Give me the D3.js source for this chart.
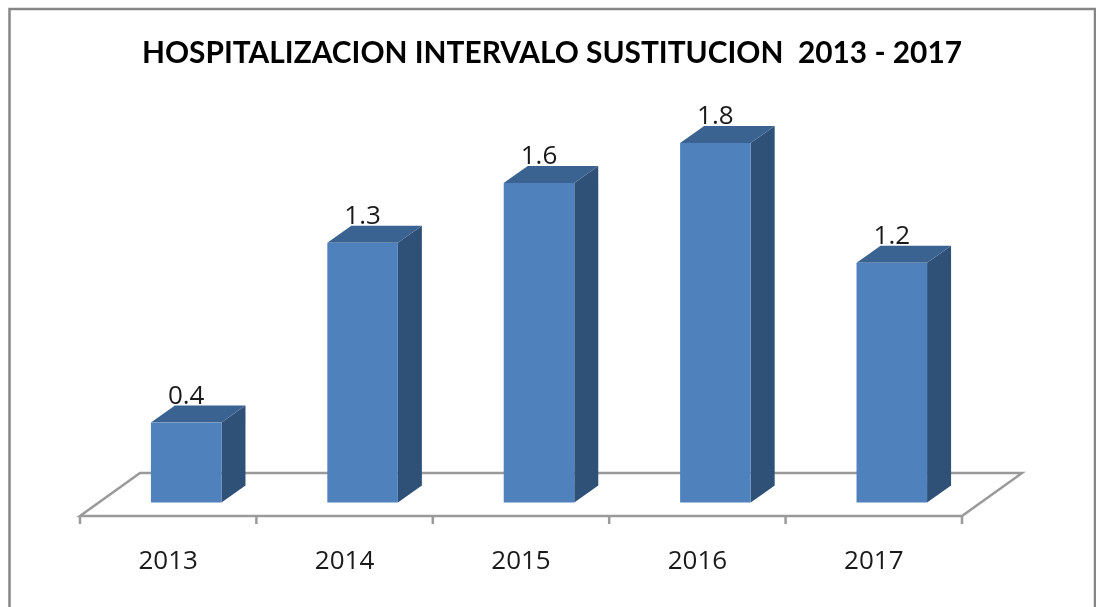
<!DOCTYPE html>
<html>
<head>
<meta charset="utf-8">
<script src="https://cdn.jsdelivr.net/npm/d3@7"></script>
<style>
    html, body { margin: 0; padding: 0; background: #fff; overflow: hidden; }
    svg { display: block; filter: blur(0.45px); }
    text { fill: #1a1a1a; }
</style>
</head>
<body>
<svg id="chart"></svg>
<script>
const years = ["2013", "2014", "2015", "2016", "2017"];
const values = [0.4, 1.3, 1.6, 1.8, 1.2];
const titleText = "HOSPITALIZACION INTERVALO SUSTITUCION  2013 - 2017";

const width = 1096;
const height = 607;

// 3d offsets: bar depth and floor depth
const depth = { x: 24, y: -17 };
const floor = { x: 60, y: -43 };
const floorY = 516;
const baseY = 502.5;

const svg = d3.select("#chart").attr("width", width).attr("height", height);

// outer frame, bottom edge is cut off in the picture
svg.append("path")
    .attr("d", "M9.5,607V9H1095V607")
    .attr("fill", "none")
    .attr("stroke", "#868686")
    .attr("stroke-width", 2.5);

svg.append("text")
    .attr("x", 552)
    .attr("y", 63)
    .attr("text-anchor", "middle")
    .style("white-space", "pre")
    .style("font-family", "Lato")
    .style("font-weight", 700)
    .style("font-size", "29.85px")
    .style("fill", "#000")
    .text(titleText);

const x = d3.scaleBand().domain(years).range([80, 962]);
const xBars = d3.scaleBand().domain(years).range([98, 980]).paddingInner(0.6).paddingOuter(0.3);
const y = d3.scaleLinear().domain([0, 1.8]).range([baseY, 143]);

// floor
const x0 = x.range()[0];
const x1 = x.range()[1];
svg.append("path")
    .attr("d", d3.line()([
        [x0, floorY],
        [x0 + floor.x, floorY + floor.y],
        [x1 + floor.x, floorY + floor.y],
        [x1, floorY]
    ]) + "Z")
    .attr("fill", "#fff")
    .attr("stroke", "#9a9a9a")
    .attr("stroke-width", 2.5);

// tick marks sit between the categories
svg.selectAll(".tick-mark")
    .data(d3.range(years.length + 1))
    .enter()
    .append("line")
    .attr("class", "tick-mark")
    .attr("x1", i => x0 + i * x.step())
    .attr("x2", i => x0 + i * x.step())
    .attr("y1", floorY)
    .attr("y2", floorY + 8)
    .attr("stroke", "#9a9a9a")
    .attr("stroke-width", 2.5);

const axis = svg.append("g")
    .attr("transform", `translate(0,${floorY})`)
    .call(d3.axisBottom(x).tickSize(0).tickPadding(35));
axis.select(".domain").remove();
axis.selectAll("text")
    .style("font-family", "Open Sans")
    .style("font-size", "26px")
    .style("fill", "#1a1a1a");

const bars = svg.selectAll(".bar")
    .data(years.map((year, i) => ({ year, value: values[i] })))
    .enter()
    .append("g")
    .attr("class", "bar");

// side face
bars.append("path")
    .attr("fill", "#2f5178")
    .attr("d", d => {
        const r = xBars(d.year) + xBars.bandwidth();
        return d3.line()([
            [r, y(d.value)],
            [r + depth.x, y(d.value) + depth.y],
            [r + depth.x, baseY + depth.y],
            [r, baseY]
        ]) + "Z";
    });

// top face
bars.append("path")
    .attr("fill", "#3b6391")
    .attr("d", d => {
        const l = xBars(d.year);
        const r = l + xBars.bandwidth();
        return d3.line()([
            [l, y(d.value)],
            [l + depth.x, y(d.value) + depth.y],
            [r + depth.x, y(d.value) + depth.y],
            [r, y(d.value)]
        ]) + "Z";
    });

// front face
bars.append("rect")
    .attr("x", d => xBars(d.year))
    .attr("y", d => y(d.value))
    .attr("width", xBars.bandwidth())
    .attr("height", d => baseY - y(d.value))
    .attr("fill", "#4f81bd");

bars.append("text")
    .attr("x", d => xBars(d.year) + xBars.bandwidth() / 2)
    .attr("y", d => y(d.value) + depth.y - 2)
    .attr("text-anchor", "middle")
    .style("font-family", "Open Sans")
    .style("font-size", "26px")
    .text(d => d.value.toFixed(1));
</script>
</body>
</html>
